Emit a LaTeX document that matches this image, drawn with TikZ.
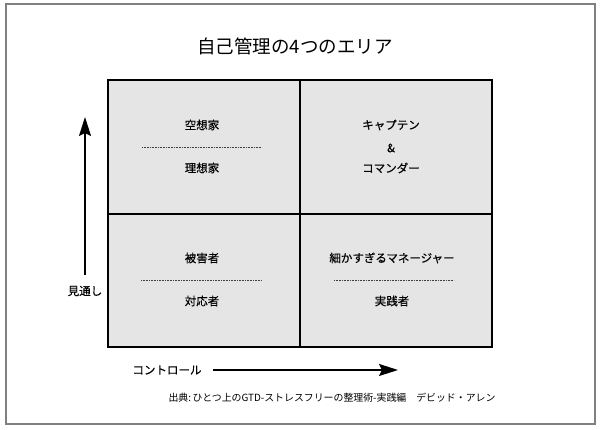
\documentclass[tikz,border=0pt]{standalone}
\usepackage{fontspec}
\setmainfont{Noto Sans CJK JP}
\newfontfamily\labfont{Noto Sans CJK JP}[FakeBold=0.35]
\usetikzlibrary{arrows.meta}
\begin{document}
\begin{tikzpicture}[x=1pt,y=-1pt,
  cellfill/.style={fill=gray!20},
  gridline/.style={draw=black, line width=1.6pt},
  lab/.style={font=\labfont\fontsize{11.5}{13}\selectfont, inner sep=0pt},
  sepline/.style={line width=0.7pt, dash pattern=on 0.8pt off 0.8pt, black!75},
  axis/.style={line width=1.5pt, -{Stealth[length=19pt,width=12pt,inset=3pt]}}]
\useasboundingbox (0,0) rectangle (600,430);
% outer frame
\draw[gray, line width=2pt] (5.5,4.5) rectangle (595,424);
% title
\node[font=\fontsize{18.5}{20}\selectfont, inner sep=0pt] (title) at (295,46) {自己管理の4つのエリア};
% grid
\fill[cellfill] (108,80) rectangle (492,347);
\draw[gridline] (108,80) rectangle (492,347);
\draw[gridline] (300,80) -- (300,347);
\draw[gridline] (108,214) -- (492,214);
% top-left
\node[lab] (kuso) at (202,125) {空想家};
\coordinate (d1a) at (142,147.5);
\coordinate (d1b) at (262,147.5);
\draw[sepline] (d1a) -- (d1b);
\node[lab] (riso) at (202,168) {理想家};
% top-right
\node[lab] (captain) at (391,125) {キャプテン};
\node[lab] (amp) at (391,148) {\&};
\node[lab] (commander) at (391,168) {コマンダー};
% bottom-left
\node[lab] (higai) at (202,258) {被害者};
\coordinate (d2a) at (141,280.5);
\coordinate (d2b) at (262,280.5);
\draw[sepline] (d2a) -- (d2b);
\node[lab] (taio) at (202,301) {対応者};
% bottom-right
\node[lab] (manager) at (392,258) {細かすぎるマネージャー};
\coordinate (d3a) at (334,280.5);
\coordinate (d3b) at (454,280.5);
\draw[sepline] (d3a) -- (d3b);
\node[lab] (jissen) at (392,301) {実践者};
% axes
\coordinate (v0) at (85,275);
\coordinate (v1) at (85,117);
\draw[axis] (v0) -- (v1);
\node[lab] (mitoshi) at (85,291) {見通し};
\coordinate (h0) at (213,370);
\coordinate (h1) at (398,370);
\draw[axis] (h0) -- (h1);
\node[lab] (control) at (167,370) {コントロール};
% source
\node[font=\fontsize{9.9}{11}\selectfont, inner sep=0pt] (source) at (332,398) {出典:\,ひとつ上のGTD-ストレスフリーの整理術-実践編　デビッド・アレン};
\end{tikzpicture}
\end{document}
